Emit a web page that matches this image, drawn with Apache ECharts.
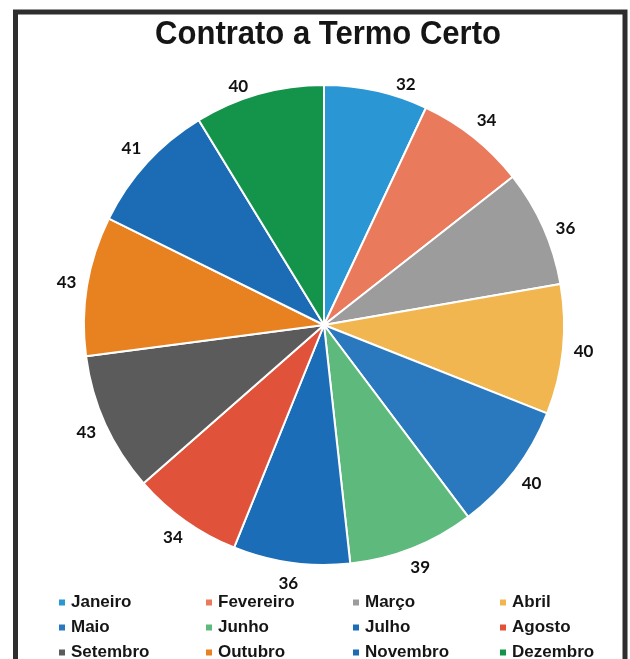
<!DOCTYPE html>
<html>
<head>
<meta charset="utf-8">
<script src="https://cdn.jsdelivr.net/npm/echarts@6/dist/echarts.min.js"></script>
<style>
  html, body { margin: 0; padding: 0; background: #ffffff; }
  #chart { width: 630px; height: 659px; }
</style>
</head>
<body>
<div id="chart"></div>
<script>
// Monthly contract counts
const months = ['Janeiro', 'Fevereiro', 'Março', 'Abril', 'Maio', 'Junho',
                'Julho', 'Agosto', 'Setembro', 'Outubro', 'Novembro', 'Dezembro'];
const values = [32, 34, 36, 40, 40, 39, 36, 34, 43, 43, 41, 40];
const sliceColors = ['#2B96D4', '#E97A5C', '#9C9C9C', '#F1B650', '#2A79BE', '#5DB97C',
                     '#1B6DB8', '#E1523B', '#5B5B5B', '#E8811F', '#1B6BB5', '#14944B'];
const title = 'Contrato a Termo Certo';

const chart = echarts.init(document.getElementById('chart'));

const center = [324, 325];
// small label shifts (px) for the crowded labels near the top of the pie
const labelShift = { 0: [25, 14], 2: [3, 10], 11: [-15, 13] };

chart.setOption({
  animation: false,
  backgroundColor: '#ffffff',
  legend: {
    data: months,
    left: 52,
    top: 589,
    width: 600,
    icon: 'rect',
    itemWidth: 8,
    itemHeight: 8,
    itemGap: 8,
    textStyle: {
      fontFamily: '"Liberation Sans", Arial, sans-serif',
      fontWeight: 'bold',
      fontSize: 17,
      color: '#161616',
      width: 125,
      lineHeight: 17
    }
  },
  graphic: [
    {
      type: 'polyline',
      silent: true,
      shape: { points: [[15.5, 680], [15.5, 12], [625, 12], [625, 680]] },
      style: { fill: null, stroke: '#2e2e2e', lineWidth: 5 }
    },
    {
      type: 'text',
      silent: true,
      x: 328,
      y: 35,
      scaleX: 0.94,
      style: {
        text: title,
        align: 'center',
        verticalAlign: 'middle',
        font: 'bold 33px "Liberation Sans", Arial, sans-serif',
        fill: '#151515'
      }
    }
  ],
  series: [
    {
      type: 'pie',
      center: center,
      radius: [0, 240],
      startAngle: 90,
      clockwise: true,
      label: { show: false },
      labelLine: { show: false },
      itemStyle: { borderColor: '#ffffff', borderWidth: 2 },
      data: months.map((m, i) => ({ name: m, value: values[i], itemStyle: { color: sliceColors[i] } }))
    },
    {
      // value labels placed in a transparent ring just outside the pie
      type: 'pie',
      silent: true,
      center: center,
      radius: [250, 266],
      startAngle: 90,
      clockwise: true,
      legendHoverLink: false,
      itemStyle: { color: 'rgba(0,0,0,0)' },
      label: {
        show: true,
        position: 'inside',
        formatter: '{c}',
        fontFamily: 'Lato, "Open Sans", sans-serif',
        fontWeight: 'bold',
        fontSize: 17,
        color: '#111111'
      },
      labelLine: { show: false },
      labelLayout: function (params) {
        if (params.seriesIndex !== 1) return {};
        const s = labelShift[params.dataIndex];
        return s ? { dx: s[0], dy: s[1] } : {};
      },
      data: months.map((m, i) => ({ name: m + ' ', value: values[i] }))
    }
  ]
});
</script>
</body>
</html>
